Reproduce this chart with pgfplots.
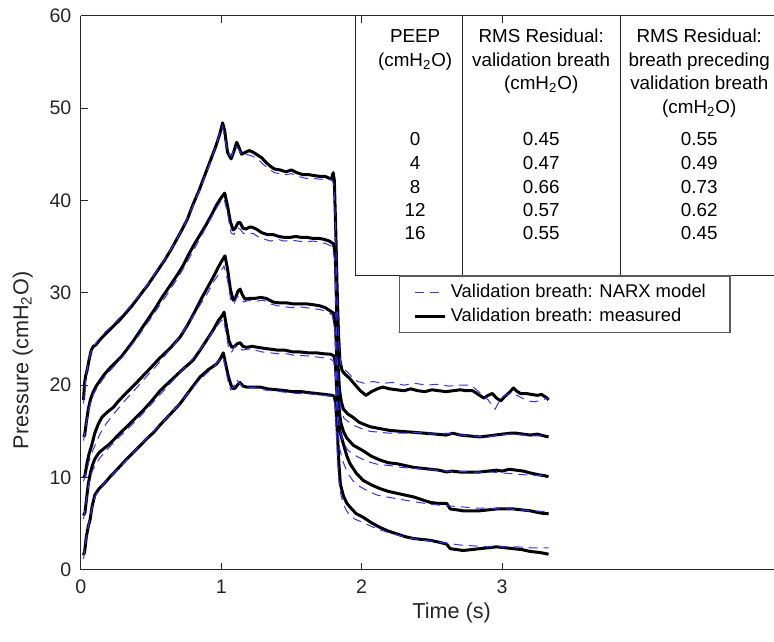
\documentclass[border=0pt]{standalone}
\usepackage{pgfplots}
\pgfplotsset{compat=1.18}
\usepackage{fontspec}
\setmainfont{Liberation Sans}
\definecolor{nblue}{rgb}{0.2,0.2,1}
\definecolor{axgray}{gray}{0.15}
\tikzset{meas/.style={black, line width=1.5pt, line join=round},
         model/.style={nblue, line width=0.5pt, dash pattern=on 4.5pt off 3pt}}
\begin{document}
\begin{tikzpicture}
% table grid (drawn in pt, axis origin at (0,0))
\draw[axgray, line width=0.5pt] (137.15pt,277pt) -- (137.15pt,147.25pt) -- (346.5pt,147.25pt);
\draw[axgray, line width=0.5pt] (190.65pt,277pt) -- (190.65pt,147.25pt);
\draw[axgray, line width=0.5pt] (269.65pt,277pt) -- (269.65pt,147.25pt);
\begin{scope}[every node/.style={anchor=base, font=\fontsize{9.4}{11}\selectfont, inner sep=0pt}]
\node at (167.15pt,263.6pt) {PEEP};
\node at (167.15pt,251.6pt) {(cmH\textsubscript{2}O)};
\node at (230.15pt,263.6pt) {RMS Residual:};
\node at (230.15pt,251.6pt) {validation breath};
\node at (230.15pt,240.1pt) {(cmH\textsubscript{2}O)};
\node at (309.15pt,263.6pt) {RMS Residual:};
\node at (309.15pt,251.6pt) {breath preceding};
\node at (309.15pt,240.1pt) {validation breath};
\node at (309.15pt,228.1pt) {(cmH\textsubscript{2}O)};
\node at (167.15pt,212.1pt) {0};
\node at (167.15pt,200.1pt) {4};
\node at (167.15pt,188.1pt) {8};
\node at (167.15pt,176.6pt) {12};
\node at (167.15pt,165.1pt) {16};
\node at (230.15pt,212.1pt) {0.45};
\node at (230.15pt,200.1pt) {0.47};
\node at (230.15pt,188.1pt) {0.66};
\node at (230.15pt,176.6pt) {0.57};
\node at (230.15pt,165.1pt) {0.55};
\node at (309.15pt,212.1pt) {0.55};
\node at (309.15pt,200.1pt) {0.49};
\node at (309.15pt,188.1pt) {0.73};
\node at (309.15pt,176.6pt) {0.62};
\node at (309.15pt,165.1pt) {0.45};
\end{scope}
\begin{axis}[
  scale only axis, width=346.5pt, height=277pt,
  xmin=0, xmax=4.935, ymin=0, ymax=60,
  axis x line*=box, axis y line*=left,
  x axis line style={-}, y axis line style={-},
  axis line style={axgray, line width=0.5pt},
  xtick={0,1,2,3}, ytick={0,10,...,60},
  tick align=inside, major tick length=3.5pt,
  tick style={axgray, line width=0.5pt},
  /pgf/number format/assume math mode=true,
  ticklabel style={font=\fontsize{9.8}{11.5}\selectfont, text=axgray},
  yticklabel style={inner sep=0pt, xshift=-4.5pt},
  xticklabel style={inner sep=0pt, yshift=-4.8pt},
  xlabel={Time (s)}, ylabel={Pressure (cmH\textsubscript{2}O)},
  label style={font=\fontsize{10.8}{13}\selectfont, text=axgray},
  xlabel style={at={(rel axis cs:0.535,-0.0775)}, anchor=center},
  ylabel style={at={(rel axis cs:-0.0835,0.378)}, anchor=center},
  legend style={at={(rel axis cs:0.4593,0.5316)}, anchor=north west,
    draw=gray!70!black, fill=white, line width=0.6pt, inner xsep=7pt, inner ysep=2pt,
    font=\fontsize{9.2}{11}\selectfont},
  legend cell align=left,
  legend image code/.code={\draw[#1] (0pt,0pt) -- (15pt,0pt);},
]
% ---------- measured (black) ----------
\addplot[meas, forget plot] coordinates {
(0.020,18.4)(0.027,20.2)(0.035,21.0)(0.045,21.6)(0.060,22.8)(0.075,23.8)(0.090,24.2)(0.110,24.4)(0.130,24.8)(0.160,25.3)(0.200,25.9)(0.240,26.5)(0.280,27.1)(0.320,27.8)(0.360,28.5)(0.400,29.3)(0.440,30.1)(0.480,30.9)(0.520,31.8)(0.560,32.7)(0.600,33.6)(0.640,34.6)(0.680,35.7)(0.720,36.8)(0.760,38.0)(0.800,39.6)(0.840,41.0)(0.880,42.6)(0.920,44.2)(0.960,45.8)(0.990,47.2)(1.010,48.4)(1.025,47.5)(1.045,45.2)(1.070,44.5)(1.090,45.3)(1.110,46.3)(1.125,45.8)(1.145,45.0)(1.170,45.2)(1.200,45.4)(1.230,45.2)(1.260,44.9)(1.290,44.6)(1.320,44.1)(1.350,43.7)(1.380,43.4)(1.420,43.3)(1.460,43.1)(1.500,43.3)(1.540,43.0)(1.580,42.8)(1.620,42.8)(1.660,42.7)(1.700,42.6)(1.740,42.6)(1.770,42.4)(1.785,42.3)(1.797,43.0)(1.805,42.2)(1.815,37.0)(1.825,30.5)(1.835,25.5)(1.845,22.7)(1.860,21.6)(1.880,21.2)(1.910,20.8)(1.950,20.1)(1.990,19.4)(2.030,18.9)(2.070,19.3)(2.110,19.6)(2.150,19.8)(2.200,19.6)(2.250,19.5)(2.300,19.4)(2.350,19.6)(2.400,19.4)(2.450,19.3)(2.500,19.5)(2.550,19.4)(2.600,19.3)(2.650,19.4)(2.700,19.5)(2.750,19.4)(2.790,19.4)(2.830,19.0)(2.870,18.6)(2.900,18.9)(2.930,19.1)(2.960,18.6)(2.990,18.3)(3.020,18.8)(3.050,19.2)(3.080,19.7)(3.100,19.4)(3.130,19.1)(3.170,19.1)(3.210,19.0)(3.250,18.9)(3.280,19.0)(3.300,18.8)(3.320,18.6)(3.330,18.4)
};
\addplot[meas, forget plot] coordinates {
(0.020,14.4)(0.028,14.6)(0.040,16.0)(0.055,17.5)(0.070,18.5)(0.090,19.3)(0.110,19.9)(0.137,20.5)(0.170,21.2)(0.210,21.9)(0.250,22.5)(0.290,23.1)(0.330,23.9)(0.370,24.7)(0.410,25.6)(0.450,26.5)(0.490,27.4)(0.530,28.3)(0.570,29.3)(0.610,30.2)(0.650,31.1)(0.690,32.0)(0.730,33.0)(0.770,34.2)(0.810,35.3)(0.850,36.3)(0.890,37.3)(0.930,38.4)(0.970,39.6)(1.000,40.3)(1.025,40.8)(1.045,39.4)(1.065,37.7)(1.085,36.8)(1.100,37.0)(1.120,37.6)(1.135,37.6)(1.155,37.0)(1.175,36.9)(1.200,37.1)(1.220,37.1)(1.250,36.9)(1.290,36.5)(1.330,36.3)(1.370,36.3)(1.410,36.1)(1.450,36.0)(1.490,36.0)(1.530,36.1)(1.570,36.0)(1.610,36.0)(1.650,35.9)(1.690,35.9)(1.730,35.8)(1.770,35.6)(1.800,35.3)(1.812,34.0)(1.822,28.0)(1.832,22.0)(1.842,19.5)(1.855,18.2)(1.870,17.4)(1.900,16.9)(1.940,16.5)(1.980,16.0)(2.010,15.8)(2.060,15.5)(2.130,15.3)(2.200,15.1)(2.280,15.0)(2.370,14.9)(2.450,14.8)(2.530,14.7)(2.600,14.6)(2.650,14.8)(2.700,14.6)(2.770,14.5)(2.840,14.4)(2.900,14.5)(2.950,14.6)(3.000,14.7)(3.060,14.8)(3.100,14.8)(3.150,14.7)(3.200,14.6)(3.250,14.7)(3.300,14.5)(3.330,14.4)
};
\addplot[meas, forget plot] coordinates {
(0.020,10.0)(0.030,10.2)(0.045,11.6)(0.060,12.6)(0.078,13.5)(0.100,14.8)(0.125,15.8)(0.150,16.5)(0.190,17.1)(0.232,17.6)(0.270,18.3)(0.320,19.1)(0.374,19.9)(0.430,20.8)(0.493,21.8)(0.560,22.9)(0.636,24.0)(0.707,25.2)(0.760,26.5)(0.810,27.9)(0.860,29.4)(0.900,30.5)(0.940,31.6)(0.980,32.8)(1.010,33.6)(1.027,34.0)(1.045,32.6)(1.065,30.4)(1.085,29.2)(1.100,29.4)(1.120,30.2)(1.135,30.4)(1.150,29.8)(1.170,29.3)(1.200,29.4)(1.240,29.4)(1.280,29.5)(1.320,29.4)(1.370,29.0)(1.420,28.9)(1.470,28.9)(1.510,28.8)(1.560,28.8)(1.610,28.8)(1.660,28.7)(1.700,28.6)(1.740,28.4)(1.770,28.1)(1.800,27.8)(1.815,26.0)(1.825,21.5)(1.835,18.0)(1.850,16.0)(1.870,15.0)(1.893,14.3)(1.940,13.5)(2.010,12.9)(2.070,12.3)(2.130,11.9)(2.190,11.6)(2.250,11.5)(2.310,11.3)(2.370,11.1)(2.430,11.0)(2.490,10.9)(2.550,10.8)(2.605,10.6)(2.640,10.7)(2.700,10.6)(2.780,10.6)(2.840,10.6)(2.900,10.7)(2.960,10.8)(3.000,10.7)(3.050,10.9)(3.100,10.8)(3.150,10.7)(3.200,10.5)(3.260,10.3)(3.300,10.2)(3.330,10.1)
};
\addplot[meas, forget plot] coordinates {
(0.020,5.9)(0.030,6.2)(0.042,7.8)(0.054,9.3)(0.070,10.6)(0.085,11.4)(0.100,12.0)(0.130,12.7)(0.170,13.2)(0.210,13.7)(0.260,14.5)(0.327,15.5)(0.380,16.3)(0.446,17.3)(0.500,18.2)(0.565,19.4)(0.620,20.2)(0.683,21.1)(0.740,21.9)(0.800,22.7)(0.850,23.8)(0.897,24.9)(0.940,25.9)(0.980,27.0)(1.010,27.6)(1.020,27.9)(1.035,26.6)(1.055,24.8)(1.075,24.1)(1.095,24.2)(1.115,24.5)(1.135,24.6)(1.155,24.2)(1.180,24.1)(1.220,24.2)(1.260,24.1)(1.300,24.0)(1.350,23.9)(1.400,23.8)(1.450,23.8)(1.510,23.6)(1.560,23.6)(1.620,23.5)(1.680,23.5)(1.730,23.4)(1.780,23.35)(1.800,23.2)(1.812,22.6)(1.822,19.5)(1.832,17.0)(1.845,15.0)(1.870,13.6)(1.895,12.3)(1.917,11.5)(1.960,10.5)(2.010,9.7)(2.070,9.2)(2.130,8.8)(2.190,8.5)(2.250,8.3)(2.310,8.1)(2.370,7.9)(2.430,7.6)(2.490,7.3)(2.550,7.2)(2.605,7.2)(2.630,6.6)(2.680,6.5)(2.720,6.4)(2.780,6.4)(2.840,6.4)(2.900,6.5)(2.960,6.6)(3.020,6.6)(3.080,6.6)(3.140,6.5)(3.200,6.4)(3.260,6.2)(3.300,6.1)(3.330,6.1)
};
\addplot[meas, forget plot] coordinates {
(0.020,1.6)(0.028,2.0)(0.040,3.6)(0.055,4.8)(0.066,5.4)(0.080,6.8)(0.100,8.1)(0.130,8.8)(0.170,9.4)(0.210,10.1)(0.260,10.9)(0.327,12.0)(0.400,13.1)(0.470,14.2)(0.520,14.9)(0.565,15.7)(0.640,16.9)(0.707,18.0)(0.780,19.5)(0.850,20.9)(0.910,21.7)(0.968,22.3)(0.995,22.9)(1.015,23.5)(1.030,22.4)(1.050,21.0)(1.070,20.0)(1.086,19.6)(1.100,19.7)(1.120,20.1)(1.134,20.3)(1.155,19.9)(1.180,19.8)(1.220,19.8)(1.276,19.8)(1.330,19.6)(1.400,19.5)(1.460,19.4)(1.510,19.3)(1.570,19.3)(1.620,19.2)(1.680,19.1)(1.740,19.0)(1.790,18.9)(1.805,18.8)(1.815,18.0)(1.828,14.5)(1.838,11.5)(1.848,9.3)(1.870,8.0)(1.895,7.2)(1.917,6.8)(1.960,6.1)(2.010,5.7)(2.070,5.1)(2.130,4.6)(2.190,4.2)(2.250,3.9)(2.310,3.6)(2.370,3.4)(2.430,3.3)(2.490,3.2)(2.550,3.0)(2.605,2.8)(2.630,2.3)(2.680,2.2)(2.720,2.1)(2.780,2.2)(2.840,2.3)(2.900,2.4)(2.960,2.5)(3.020,2.4)(3.080,2.3)(3.140,2.2)(3.200,2.0)(3.260,1.9)(3.300,1.8)(3.330,1.7)
};
% ---------- NARX model (blue dashed) ----------
\addplot[model, forget plot] coordinates {
(0.020,18.0)(0.030,19.8)(0.045,21.6)(0.060,23.0)(0.080,23.9)(0.100,24.4)(0.130,25.0)(0.170,25.7)(0.220,26.4)(0.270,27.2)(0.320,28.0)(0.370,28.9)(0.420,29.8)(0.470,30.8)(0.520,31.9)(0.570,33.0)(0.620,34.2)(0.670,35.4)(0.720,36.8)(0.770,38.4)(0.820,40.1)(0.870,42.0)(0.920,44.0)(0.960,45.8)(0.990,47.3)(1.010,48.0)(1.030,46.4)(1.050,45.0)(1.075,44.8)(1.100,45.9)(1.120,45.6)(1.150,44.9)(1.180,45.0)(1.220,44.8)(1.260,44.5)(1.300,43.9)(1.340,43.4)(1.380,43.0)(1.420,42.9)(1.460,42.8)(1.500,42.9)(1.550,42.6)(1.600,42.4)(1.650,42.4)(1.700,42.3)(1.750,42.3)(1.790,42.2)(1.805,41.5)(1.815,36.0)(1.825,29.5)(1.835,24.8)(1.850,22.4)(1.870,21.8)(1.900,21.4)(1.930,20.9)(1.970,20.4)(2.020,20.2)(2.080,20.4)(2.150,20.2)(2.220,20.3)(2.300,20.0)(2.380,20.2)(2.460,20.0)(2.540,20.1)(2.620,19.9)(2.700,20.0)(2.780,20.0)(2.840,19.2)(2.900,18.4)(2.950,17.4)(2.990,18.6)(3.030,19.0)(3.080,19.1)(3.130,18.7)(3.180,18.3)(3.230,18.2)(3.280,18.4)(3.330,18.6)
};
\addplot[model, forget plot] coordinates {
(0.020,14.0)(0.035,15.4)(0.050,16.8)(0.070,18.1)(0.090,19.0)(0.120,19.8)(0.160,20.7)(0.210,21.6)(0.260,22.4)(0.310,23.3)(0.360,24.3)(0.410,25.3)(0.460,26.4)(0.510,27.5)(0.560,28.6)(0.610,29.7)(0.660,30.9)(0.710,32.1)(0.760,33.4)(0.810,34.8)(0.860,36.2)(0.910,37.6)(0.960,39.0)(1.000,40.0)(1.020,40.2)(1.045,38.6)(1.070,36.5)(1.090,36.3)(1.115,37.0)(1.135,36.9)(1.160,36.4)(1.190,36.5)(1.230,36.4)(1.270,36.0)(1.310,35.8)(1.350,35.6)(1.400,35.8)(1.450,35.6)(1.500,35.7)(1.550,35.6)(1.600,35.5)(1.650,35.6)(1.700,35.5)(1.750,35.3)(1.790,35.0)(1.808,33.5)(1.818,27.5)(1.828,21.5)(1.840,18.6)(1.855,17.2)(1.875,16.4)(1.910,16.0)(1.950,15.6)(2.000,15.3)(2.060,15.0)(2.130,14.9)(2.200,14.8)(2.300,14.8)(2.400,14.9)(2.500,14.7)(2.600,14.8)(2.700,14.6)(2.800,14.5)(2.900,14.4)(2.980,14.6)(3.060,14.7)(3.150,14.6)(3.250,14.5)(3.330,14.5)
};
\addplot[model, forget plot] coordinates {
(0.020,9.6)(0.040,10.6)(0.060,11.8)(0.080,12.7)(0.110,13.8)(0.140,14.8)(0.180,15.8)(0.230,16.8)(0.280,17.7)(0.330,18.6)(0.380,19.4)(0.430,20.3)(0.490,21.3)(0.550,22.3)(0.610,23.4)(0.670,24.5)(0.730,25.8)(0.790,27.2)(0.850,28.7)(0.900,29.9)(0.950,31.3)(0.990,32.2)(1.020,32.9)(1.045,31.4)(1.070,29.0)(1.090,28.8)(1.115,29.6)(1.135,29.5)(1.160,29.0)(1.200,29.2)(1.250,29.1)(1.300,29.2)(1.350,28.8)(1.400,28.6)(1.450,28.5)(1.500,28.4)(1.550,28.5)(1.600,28.4)(1.650,28.3)(1.700,28.2)(1.750,28.0)(1.790,27.6)(1.810,26.0)(1.822,20.0)(1.835,16.5)(1.850,14.8)(1.870,13.8)(1.900,13.0)(1.940,12.5)(1.990,12.1)(2.050,11.7)(2.120,11.4)(2.200,11.3)(2.280,11.1)(2.360,11.0)(2.440,10.9)(2.520,10.8)(2.600,10.7)(2.680,10.7)(2.760,10.6)(2.840,10.6)(2.920,10.6)(3.000,10.5)(3.080,10.4)(3.160,10.3)(3.240,10.2)(3.330,10.2)
};
\addplot[model, forget plot] coordinates {
(0.020,5.5)(0.035,7.0)(0.050,8.6)(0.065,9.8)(0.085,10.8)(0.110,11.5)(0.140,12.2)(0.180,12.9)(0.230,13.7)(0.290,14.6)(0.350,15.5)(0.410,16.4)(0.470,17.4)(0.530,18.4)(0.590,19.4)(0.650,20.4)(0.710,21.4)(0.770,22.4)(0.830,23.5)(0.890,24.7)(0.950,26.0)(0.990,26.8)(1.015,27.2)(1.035,25.6)(1.055,23.8)(1.075,23.6)(1.100,24.3)(1.120,24.2)(1.150,23.8)(1.190,23.9)(1.240,23.8)(1.290,23.6)(1.350,23.5)(1.410,23.4)(1.470,23.4)(1.530,23.2)(1.590,23.2)(1.650,23.1)(1.710,23.0)(1.770,22.9)(1.800,22.6)(1.812,21.5)(1.822,18.0)(1.832,15.0)(1.845,13.0)(1.870,11.6)(1.900,10.5)(1.940,9.6)(1.990,9.0)(2.050,8.5)(2.110,8.1)(2.180,7.9)(2.250,7.7)(2.330,7.5)(2.410,7.3)(2.490,7.1)(2.570,7.0)(2.650,6.9)(2.730,6.8)(2.810,6.7)(2.890,6.7)(2.970,6.6)(3.050,6.6)(3.130,6.5)(3.210,6.4)(3.330,6.3)
};
\addplot[model, forget plot] coordinates {
(0.020,1.2)(0.035,3.0)(0.050,4.4)(0.065,5.6)(0.085,7.0)(0.105,8.0)(0.140,8.9)(0.180,9.6)(0.230,10.4)(0.290,11.3)(0.350,12.3)(0.410,13.3)(0.470,14.3)(0.530,15.2)(0.590,16.1)(0.650,17.1)(0.710,18.1)(0.770,19.2)(0.830,20.3)(0.890,21.2)(0.950,22.0)(0.990,22.8)(1.012,23.1)(1.030,21.9)(1.050,20.3)(1.068,19.5)(1.090,19.9)(1.110,20.6)(1.130,20.2)(1.160,19.7)(1.200,19.8)(1.250,19.7)(1.300,19.5)(1.360,19.4)(1.420,19.3)(1.480,19.2)(1.540,19.1)(1.600,19.1)(1.660,19.0)(1.720,18.9)(1.780,18.8)(1.800,18.6)(1.812,17.5)(1.825,13.0)(1.835,10.0)(1.848,8.4)(1.870,7.1)(1.900,6.2)(1.950,5.5)(2.000,5.2)(2.100,4.5)(2.200,4.0)(2.300,3.6)(2.400,3.3)(2.500,3.1)(2.600,2.9)(2.700,2.7)(2.800,2.6)(2.900,2.5)(3.000,2.5)(3.100,2.5)(3.200,2.4)(3.330,2.4)
};
\addlegendimage{model}
\addlegendentry{Validation breath: NARX model\hspace*{3pt}}
\addlegendimage{meas}
\addlegendentry{Validation breath: measured}
\end{axis}
\pgfresetboundingbox
\path[use as bounding box] (-40.35pt,-35.75pt) rectangle (346.5pt,284.85pt);
\end{tikzpicture}
\end{document}
